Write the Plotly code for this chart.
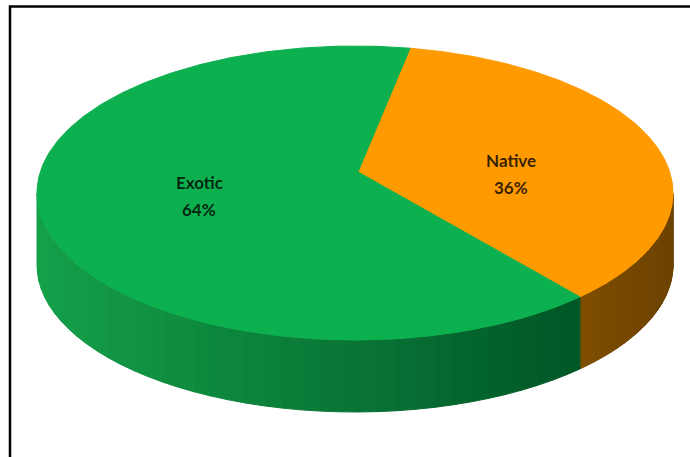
import numpy as np
import plotly.graph_objects as go

# ---- data ----
categories = ["Native", "Exotic"]
values = [36, 64]
top_colors = ["#FF9A00", "#0DB04F"]
side_light = ["#7E4D00", "#14A04A"]
side_dark = ["#6C4200", "#005626"]

# ---- geometry (pixel space of a 690x457 canvas) ----
W, H = 690, 457
CX, CY = 355.0, 193.0      # rim ellipse centre
RX, RY = 318.0, 147.0      # rim ellipse radii
VX, VY = 358.0, 172.0      # projected pie centre (slice apex)
DEPTH = 72.0
START = 11.0               # first slice angle, clockwise from 12 o'clock


def rim(t):
    """Point on the rim ellipse hit by the ray from the apex at angle t."""
    r = np.radians(np.asarray(t, dtype=float))
    dx, dy = RX * np.sin(r), -RY * np.cos(r)
    px, py = VX - CX, VY - CY
    a = (dx / RX) ** 2 + (dy / RY) ** 2
    b = 2 * (px * dx / RX ** 2 + py * dy / RY ** 2)
    c = (px / RX) ** 2 + (py / RY) ** 2 - 1
    s = (-b + np.sqrt(b * b - 4 * a * c)) / (2 * a)
    return VX + dx * s, VY + dy * s


def hex_to_rgb(h):
    h = h.lstrip("#")
    return np.array([int(h[i:i + 2], 16) for i in (0, 2, 4)], dtype=float)


def mix(c1, c2, f):
    c = hex_to_rgb(c1) * (1 - f) + hex_to_rgb(c2) * f
    return "rgb(%d,%d,%d)" % tuple(np.round(c).astype(int))


total = float(sum(values))
bounds = [START]
for v in values:
    bounds.append(bounds[-1] + 360.0 * v / total)

fig = go.Figure()

# ---- side walls (front half only) ----
_, ry_seam = rim(bounds[1])
for i, name in enumerate(categories):
    a0, a1 = bounds[i], bounds[i + 1]
    ts = np.linspace(a0, a1, 1200)
    _, yy = rim(ts)
    vis = ts[yy >= CY]
    if len(vis) < 2:
        continue
    s, e = vis.min(), vis.max()
    n = 40
    edges = np.linspace(s, e, n + 1)
    xl = CX - RX
    xseam, _ = rim(bounds[1])
    for k in range(n):
        t1, t2 = edges[k], edges[k + 1]
        tt = np.linspace(t1, t2, 6)
        x_top, y_top = rim(tt)
        xs = list(x_top) + list(x_top[::-1])
        ys = list(y_top) + list((y_top + DEPTH)[::-1])
        xm = float(np.mean(x_top))
        if i == 0:
            f = (xm - xseam) / (CX + RX - xseam)
        else:
            f = (xm - xl) / (xseam - xl)
        f = float(np.clip(f, 0, 1))
        col = mix(side_light[i], side_dark[i], f)
        fig.add_trace(go.Scatter(
            x=xs + [xs[0]], y=ys + [ys[0]], mode="lines", fill="toself",
            fillcolor=col, line=dict(color=col, width=1),
            hoverinfo="skip", showlegend=False))

# ---- top faces ----
for i, name in enumerate(categories):
    a0, a1 = bounds[i], bounds[i + 1]
    tt = np.linspace(a0, a1, 300)
    x_r, y_r = rim(tt)
    xs = [VX] + list(x_r) + [VX]
    ys = [VY] + list(y_r) + [VY]
    fig.add_trace(go.Scatter(
        x=xs, y=ys, mode="lines", fill="toself",
        fillcolor=top_colors[i], line=dict(color=top_colors[i], width=1),
        hoverinfo="skip", showlegend=False, name=name))

# ---- labels ----
lab_font = dict(family="Lato, Open Sans, sans-serif", size=17,
                color="rgba(0,0,0,0.8)")
for i, name in enumerate(categories):
    mid = (bounds[i] + bounds[i + 1]) / 2
    r = np.radians(mid)
    lx = CX + 0.505 * RX * np.sin(r)
    ly = CY - 8 - 0.306 * RY * np.cos(r)
    pct = round(100 * values[i] / total)
    fig.add_annotation(x=lx, y=ly - 13.5, xref="x", yref="y", showarrow=False,
                       text="<b>%s</b>" % name, font=lab_font)
    fig.add_annotation(x=lx, y=ly + 13.5, xref="x", yref="y", showarrow=False,
                       text="<b>%d%%</b>" % pct, font=lab_font)

# ---- frame ----
fig.add_shape(type="rect", xref="x", yref="y", x0=10, y0=6.5, x1=W + 20, y1=H + 20,
              line=dict(color="black", width=2.5), fillcolor="rgba(0,0,0,0)",
              layer="above")

fig.update_layout(
    width=W, height=H, margin=dict(l=0, r=0, t=0, b=0),
    paper_bgcolor="white", plot_bgcolor="white",
    xaxis=dict(range=[0, W], visible=False, fixedrange=True),
    yaxis=dict(range=[H, 0], visible=False, fixedrange=True),
    showlegend=False,
)

fig.write_html("out.html", config={"displayModeBar": False},
               post_script="document.body.style.margin='0';document.body.style.overflow='hidden';")
